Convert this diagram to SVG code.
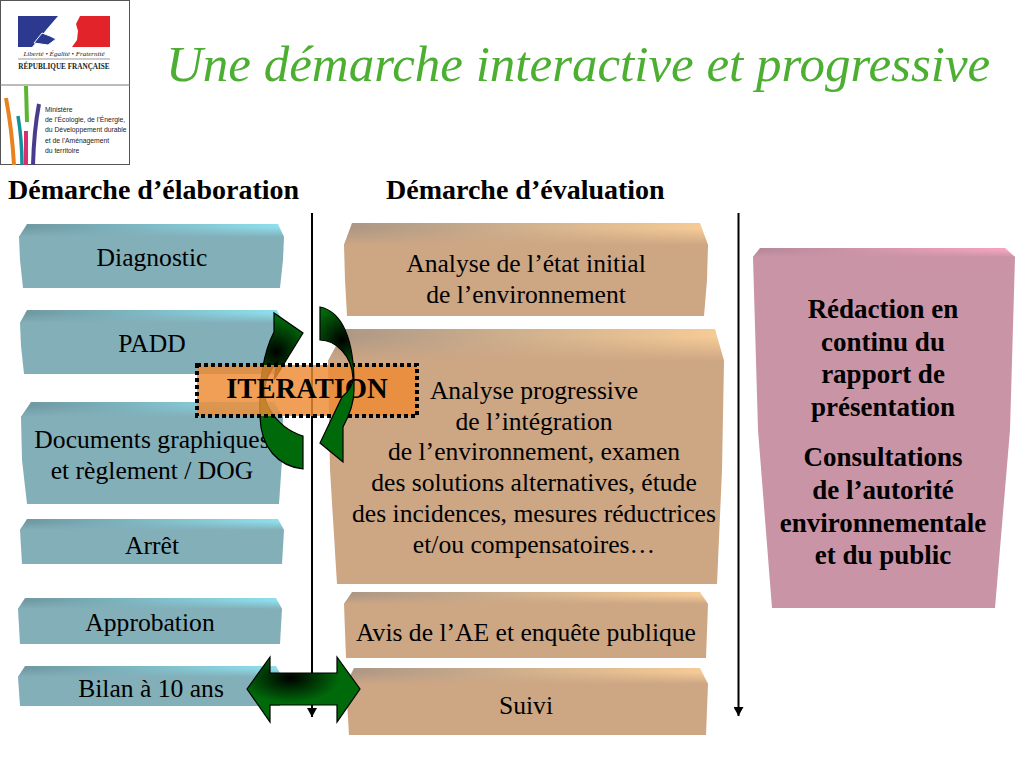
<svg xmlns="http://www.w3.org/2000/svg" width="1024" height="768" viewBox="0 0 1024 768">
<style>
text{font-family:"Liberation Serif","Times New Roman",serif;fill:#000}
.n{font-size:25.6px;text-anchor:middle}
.b{font-size:27px;font-weight:bold;text-anchor:middle}
.h{font-size:28px;font-weight:bold}
.fb{fill:#83afb9}.ft{fill:#cda684}.fp{fill:#c994a5}
.tb{fill:url(#gb)}.tt{fill:url(#gt)}.tp{fill:url(#gp)}
.ob{fill:url(#ob)}.ot{fill:url(#ot)}.op{fill:url(#op)}
.arr{stroke:#000;stroke-width:1.2}
.l{font-family:"Liberation Sans",Arial,sans-serif;fill:#222}
.s{font-family:"Liberation Serif",serif}
</style>
<defs>
<linearGradient id="gb"><stop offset="0" stop-color="#6f979f"/><stop offset="1" stop-color="#8fe0ee"/></linearGradient>
<linearGradient id="gt"><stop offset="0" stop-color="#ab9685"/><stop offset="1" stop-color="#f7cc96"/></linearGradient>
<linearGradient id="gp"><stop offset="0" stop-color="#b5889a"/><stop offset="1" stop-color="#f5a5c0"/></linearGradient>
<linearGradient id="ob" x2="0" y2="1"><stop offset=".25" stop-color="#83afb9" stop-opacity="0"/><stop offset="1" stop-color="#83afb9"/></linearGradient>
<linearGradient id="ot" x2="0" y2="1"><stop offset=".25" stop-color="#cda684" stop-opacity="0"/><stop offset="1" stop-color="#cda684"/></linearGradient>
<linearGradient id="op" x2="0" y2="1"><stop offset=".25" stop-color="#c994a5" stop-opacity="0"/><stop offset="1" stop-color="#c994a5"/></linearGradient>
<radialGradient id="ga1" gradientUnits="userSpaceOnUse" cx="276" cy="352" r="34"><stop offset="0" stop-color="#000"/><stop offset="1" stop-color="#006a0a"/></radialGradient>
<radialGradient id="ga2" gradientUnits="userSpaceOnUse" cx="342" cy="340" r="34"><stop offset="0" stop-color="#000"/><stop offset="1" stop-color="#006a0a"/></radialGradient>
<radialGradient id="ga3" gradientUnits="userSpaceOnUse" cx="290" cy="678" r="50" gradientTransform="translate(290 678) scale(1 .5) translate(-290 -678)"><stop offset="0" stop-color="#000"/><stop offset="1" stop-color="#006a0a"/></radialGradient>
<marker id="ah" markerUnits="userSpaceOnUse" markerWidth="10" markerHeight="10" refX="9" refY="5" orient="auto" viewBox="0 0 10 10"><path d="M0 0L9 5L0 10Z" fill="#000"/></marker>
</defs>
<rect width="1024" height="768" fill="#fff"/>

<g id="logo">
<rect x="0.5" y="0.5" width="129" height="164" fill="#fff" stroke="#555"/>
<line x1="0" y1="85" x2="130" y2="85" stroke="#777"/>
<path d="M18 16H58L46 30L40 38L32 47H18Z" fill="#2b3a8f"/>
<path d="M80 16H110V47H72L77 40L78 31L76 24Z" fill="#e2232a"/>
<path d="M34 43L42 33L50 36L56 39L48 45Z" fill="#2b3a8f" stroke="#fff" stroke-width="1"/>
<text class="l s" x="64" y="56" font-size="7" font-style="italic" text-anchor="middle">Liberté • Égalité • Fraternité</text>
<text class="l s" x="64" y="69" font-size="7.2" font-weight="bold" text-anchor="middle">RÉPUBLIQUE FRANÇAISE</text>
<line x1="18" y1="59" x2="110" y2="59" stroke="#555" stroke-width=".6"/>
<path d="M6 98Q12 130 14 165" fill="none" stroke="#e8821e" stroke-width="4"/>
<path d="M18 116Q22 140 22 165" fill="none" stroke="#14919b" stroke-width="3.5"/>
<path d="M26 86L27 122" fill="none" stroke="#5cb531" stroke-width="4"/>
<path d="M26 131L26 165" fill="none" stroke="#d92f6e" stroke-width="4"/>
<path d="M39 104Q34 130 33 165" fill="none" stroke="#4a3c8c" stroke-width="4"/>
<g font-size="6.8">
<text class="l" x="45" y="112">Ministère</text>
<text class="l" x="45" y="122">de l’Écologie, de l’Énergie,</text>
<text class="l" x="45" y="132">du Développement durable</text>
<text class="l" x="45" y="143">et de l’Aménagement</text>
<text class="l" x="45" y="153">du territoire</text>
</g>
</g>

<text id="title" x="166" y="81" font-size="51" font-style="italic" style="fill:#4caf32">Une démarche interactive et progressive</text>
<text id="h1" class="h" x="8" y="199">Démarche d’élaboration</text>
<text id="h2" class="h" x="386" y="199">Démarche d’évaluation</text>

<g id="connectors" stroke="#000" stroke-width="2" fill="none">
<line x1="312" y1="213" x2="312" y2="717" marker-end="url(#ah)"/>
<line x1="738.500" y1="213" x2="738.500" y2="716" marker-end="url(#ah)"/>
</g>

<g id="n-diagnostic">
<path class="fb" d="M19 237H284L283 260L280 288H23L20 260Z"/><path class="tb" d="M27 224H278L284 237H19Z"/><path class="ob" d="M27 224H278L284 237H19Z"/>
<text class="n" x="152" y="266">Diagnostic</text></g>
<g id="n-padd">
<path class="fb" d="M20 323H283L282 346L278 374H24L21 346Z"/><path class="tb" d="M27 310H277L283 323H20Z"/><path class="ob" d="M27 310H277L283 323H20Z"/>
<text class="n" x="152" y="352">PADD</text></g>
<g id="n-documents">
<path class="fb" d="M21 417H283L282 460L279 504H27L22 460Z"/><path class="tb" d="M31 402H274L283 417H21Z"/><path class="ob" d="M31 402H274L283 417H21Z"/>
<text class="n" x="152" y="448">Documents graphiques</text>
<text class="n" x="152" y="479">et règlement / DOG</text></g>
<g id="n-arret">
<path class="fb" d="M20 530H284L282 564H22Z"/><path class="tb" d="M27 519H278L284 530H20Z"/><path class="ob" d="M27 519H278L284 530H20Z"/>
<text class="n" x="152" y="554">Arrêt</text></g>
<g id="n-approbation">
<path class="fb" d="M18 609H282L280 644H20Z"/><path class="tb" d="M25 598H276L282 609H18Z"/><path class="ob" d="M25 598H276L282 609H18Z"/>
<text class="n" x="150" y="631">Approbation</text></g>
<g id="n-bilan">
<path class="fb" d="M18 677H282L280 706H20Z"/><path class="tb" d="M25 666H276L282 677H18Z"/><path class="ob" d="M25 666H276L282 677H18Z"/>
<text class="n" x="151" y="697">Bilan à 10 ans</text></g>

<g id="n-etat">
<path class="ft" d="M344 245H708L707 280L704 316H347L345 280Z"/><path class="tt" d="M352 223H700L708 245H344Z"/><path class="ot" d="M352 223H700L708 245H344Z"/>
<text class="n" x="526" y="272">Analyse de l’état initial</text>
<text class="n" x="526" y="303">de l’environnement</text></g>
<g id="n-analyse">
<path class="ft" d="M328 361H724L722 470L717 584H337L330 470Z"/><path class="tt" d="M345 329H715L724 361H328Z"/><path class="ot" d="M345 329H715L724 361H328Z"/>
<text class="n" x="534" y="399">Analyse progressive</text>
<text class="n" x="534" y="430">de l’intégration</text>
<text class="n" x="534" y="460">de l’environnement, examen</text>
<text class="n" x="534" y="491">des solutions alternatives, étude</text>
<text class="n" x="534" y="522">des incidences, mesures réductrices</text>
<text class="n" x="534" y="553">et/ou compensatoires…</text></g>
<g id="n-avis">
<path class="ft" d="M344 604H708L706 658H346Z"/><path class="tt" d="M352 592H700L708 604H344Z"/><path class="ot" d="M352 592H700L708 604H344Z"/>
<text class="n" x="526" y="641">Avis de l’AE et enquête publique</text></g>
<g id="n-suivi">
<path class="ft" d="M346 684H708L706 735H349Z"/><path class="tt" d="M354 668H700L708 684H346Z"/><path class="ot" d="M354 668H700L708 684H346Z"/>
<text class="n" x="526" y="714">Suivi</text></g>
<g id="n-redaction">
<path class="fp" d="M753 257H1015L1010 430L995 608H772L758 430Z"/><path class="tp" d="M760 248H1005L1015 257H753Z"/><path class="op" d="M760 248H1005L1015 257H753Z"/>
<text class="b" x="883" y="318">Rédaction en</text>
<text class="b" x="883" y="351">continu du</text>
<text class="b" x="883" y="383">rapport de</text>
<text class="b" x="883" y="416">présentation</text>
<text class="b" x="883" y="466">Consultations</text>
<text class="b" x="883" y="499">de l’autorité</text>
<text class="b" x="883" y="532">environnementale</text>
<text class="b" x="883" y="564">et du public</text></g>

<g id="arrow-left"><path class="arr" fill="url(#ga1)" d="M303 469C278 466 261 448 260 417C259 385 262 355 274 332L274 313L303 333L274 380L277 362C268 372 258 392 270 410C278 423 290 432 303 436Z"/></g>

<g id="n-iteration">
<rect x="197" y="365" width="220" height="51" fill="#ee8a32" fill-opacity=".82" stroke="#000" stroke-width="4" stroke-dasharray="4 3"/>
<text x="307" y="398" font-size="28.600" font-weight="bold" text-anchor="middle">ITERATION</text></g>

<g id="arrow-right"><path class="arr" fill="url(#ga2)" d="M320 307C340 311 355 335 354 390C354 402 350 414 343 427L343 462L320 443L342 397C348 392 353 385 353 378C352 355 335 340 320 340Z"/></g>

<g id="arrow-double"><path class="arr" fill="url(#ga3)" d="M247 689L270 657V673H337V657L360 689L337 722V705H270V722Z"/></g>
</svg>
